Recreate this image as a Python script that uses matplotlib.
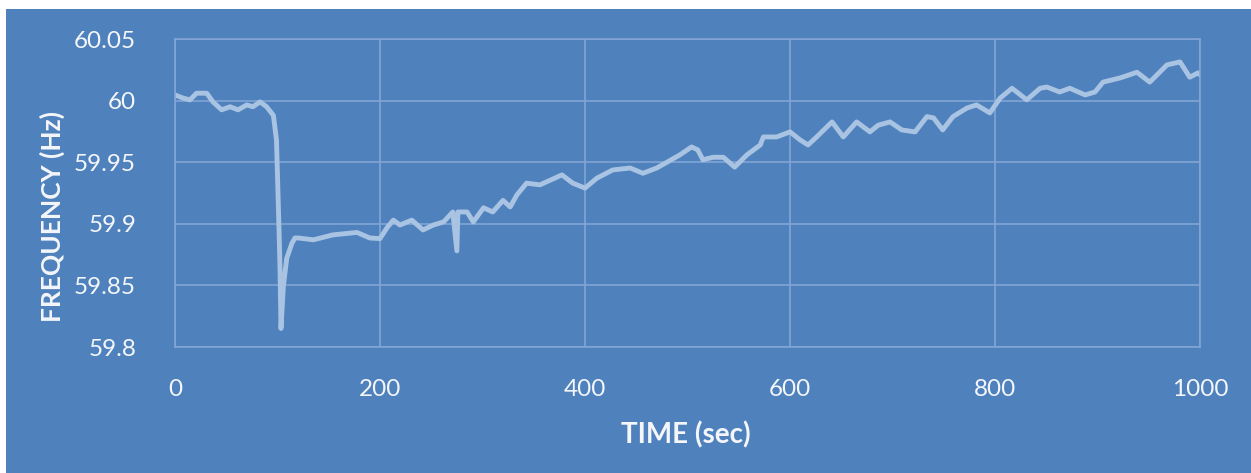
import matplotlib.pyplot as plt
from matplotlib.patches import Rectangle

# time (sec) and frequency (Hz)
time = [0, 8, 14.6, 21, 31, 37, 45.5, 53.7, 61.5, 70, 76, 83, 89.4, 96, 99, 101.5,
        102.4, 103.4, 105.7, 109, 114, 117, 120, 135, 154, 177.5, 190, 200, 207, 213,
        219.5, 231, 242, 252, 262, 271, 275, 276, 285, 291, 301, 310, 320, 327, 333.5,
        343, 356, 377.5, 388, 400, 411.5, 427, 444, 456.5, 470, 480, 492.7, 504, 510,
        515, 525, 535, 546, 558, 571, 574, 587, 600, 610, 617.6, 626, 641, 652, 665,
        678, 686, 697.6, 709, 722, 733.6, 740, 749, 759, 772.7, 782, 795, 805, 816.6,
        831, 844, 850.7, 863, 873, 888, 897.6, 905.4, 922, 938.5, 951, 967.8, 980.5,
        990, 998, 1000]
freq = [60.0046, 60.002, 60.0006, 60.006, 60.006, 59.999, 59.9925, 59.995, 59.9925, 59.9965,
        59.995, 59.999, 59.995, 59.988, 59.968, 59.895,
        59.865, 59.815, 59.849, 59.872, 59.884, 59.8885, 59.8885, 59.887, 59.891, 59.893,
        59.8885, 59.888, 59.897, 59.903,
        59.899, 59.903, 59.895, 59.899, 59.9015, 59.9096, 59.878, 59.9096, 59.9096, 59.9015,
        59.913, 59.9096, 59.919, 59.9137, 59.9234,
        59.933, 59.9316, 59.9397, 59.933, 59.929, 59.937, 59.9437, 59.9453, 59.941, 59.9453,
        59.950, 59.956, 59.9624, 59.960,
        59.952, 59.954, 59.954, 59.946, 59.956, 59.964, 59.9705, 59.9705, 59.9746, 59.968,
        59.964, 59.9705, 59.9827, 59.9705, 59.9827,
        59.9746, 59.980, 59.9827, 59.9762, 59.9746, 59.987, 59.986, 59.9762, 59.987, 59.994,
        59.9965, 59.990, 60.002, 60.010,
        60.0006, 60.010, 60.011, 60.007, 60.010, 60.0046, 60.007, 60.015, 60.0184, 60.023,
        60.015, 60.029, 60.0314,
        60.019, 60.0225, 60.021]

xticks = [0, 200, 400, 600, 800, 1000]
yticks = [59.8, 59.85, 59.9, 59.95, 60, 60.05]
ytick_labels = ['59.8', '59.85', '59.9', '59.95', '60', '60.05']

bg = '#4F81BD'
grid_c = '#86A7D6'
txt = '#F4F6FA'

plt.rcParams['font.family'] = ['Lato', 'DejaVu Sans']

fig = plt.figure(figsize=(12.51, 4.73), dpi=100, facecolor='white')
# blue chart area, white strip on top and left
fig.patches.append(Rectangle((6 / 1251, 0), 1, 1 - 9 / 473, transform=fig.transFigure,
                             facecolor=bg, edgecolor='none', zorder=-1))

ax = fig.add_axes([175 / 1251, 1 - 347 / 473, 1025 / 1251, 308 / 473])
ax.set_facecolor(bg)
ax.plot(time, freq, color='#A9C3E3', lw=3.5, solid_joinstyle='round', solid_capstyle='round')

ax.set_xlim(0, 1000)
ax.set_ylim(59.8, 60.05)
ax.set_xticks(xticks)
ax.set_xticklabels([str(t) for t in xticks])
ax.set_yticks(yticks)
ax.set_yticklabels(ytick_labels)
ax.grid(True, color=grid_c, lw=1.1)
ax.set_axisbelow(True)
for s in ax.spines.values():
    s.set_color(grid_c)
    s.set_linewidth(1.1)
ax.tick_params(length=0, colors=txt, labelsize=17.5)
ax.tick_params(axis='x', pad=23)
ax.tick_params(axis='y', pad=28)

fig.text(686 / 1251, 1 - 435 / 473, 'TIME (sec)', color=txt, fontsize=20,
         fontweight='bold', ha='center', va='center')
fig.text(52 / 1251, 1 - 216 / 473, 'FREQUENCY (Hz)', color=txt, fontsize=19,
         fontweight='bold', ha='center', va='center', rotation=90)

fig.savefig('out.png', dpi=100, facecolor='white')
